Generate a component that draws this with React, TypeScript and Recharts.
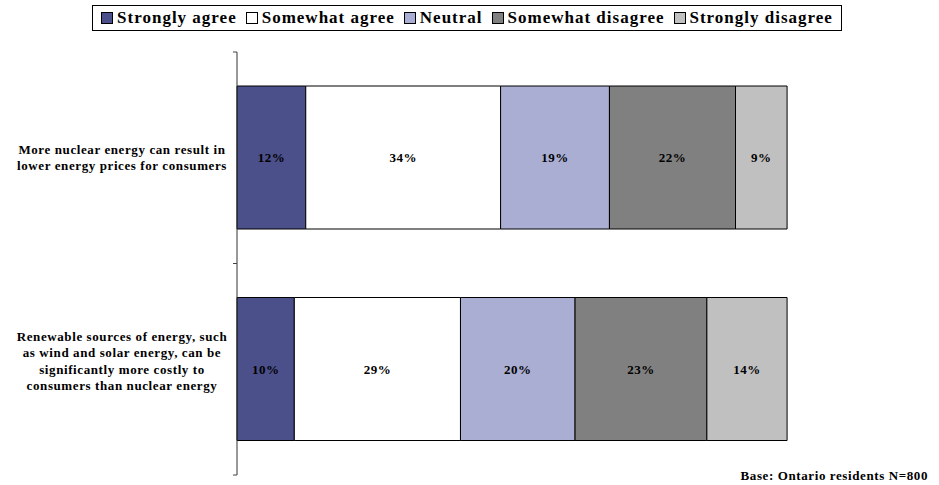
import { BarChart, Bar, XAxis, YAxis, LabelList } from "recharts";

const statements = [
    ["More nuclear energy can result in", "lower energy prices for consumers"],
    [
        "Renewable sources of energy, such",
        "as wind and solar energy, can be",
        "significantly more costly to",
        "consumers than nuclear energy",
    ],
];
const stronglyAgree = [12, 10];
const somewhatAgree = [34, 29];
const neutral = [19, 20];
const somewhatDisagree = [22, 23];
const stronglyDisagree = [9, 14];

const seriesNames = [
    "Strongly agree",
    "Somewhat agree",
    "Neutral",
    "Somewhat disagree",
    "Strongly disagree",
];
const seriesKeys = ["sa", "swa", "neu", "swd", "sd"];
const seriesColors = ["#4B4F8A", "#FFFFFF", "#AAAED3", "#808080", "#C0C0C0"];

const data = statements.map((lines, i) => ({
    name: lines.join(" "),
    lines,
    sa: stronglyAgree[i],
    swa: somewhatAgree[i],
    neu: neutral[i],
    swd: somewhatDisagree[i],
    sd: stronglyDisagree[i],
}));

const W = 939;
const H = 485;
const margin = { top: 52, right: 129, bottom: 10, left: 8 };
const bandHalf = (H - margin.top - margin.bottom) / data.length / 2;
const font = "'Liberation Serif', 'Times New Roman', serif";

const StatementTick = (props: any) => {
    const { x, y, payload } = props;
    const row = data.find((d) => d.name === payload.value);
    const lines = row ? row.lines : [payload.value];
    const lh = 16.5;
    // excel nudges the taller wrapped label upwards a little
    const startY = y - ((lines.length - 1) * lh) / 2 - (lines.length > 2 ? 9 : 1);
    return (
        <g>
            <line x1={x - 4} x2={x} y1={y - bandHalf} y2={y - bandHalf} stroke="#444" />
            <line x1={x - 4} x2={x} y1={y + bandHalf} y2={y + bandHalf} stroke="#444" />
            <text
                x={x - 115}
                y={startY}
                textAnchor="middle"
                dominantBaseline="central"
                fontFamily={font}
                fontWeight="bold"
                fontSize={13}
                letterSpacing={0.6}
                fill="#000"
            >
                {lines.map((l: string, i: number) => (
                    <tspan key={i} x={x - 115} y={startY + i * lh}>
                        {l}
                    </tspan>
                ))}
            </text>
        </g>
    );
};

export default function App() {
    return (
        <div style={{ position: "absolute", left: 0, top: 0, width: W, height: H, background: "#fff" }}>
            <div
                style={{
                    position: "absolute",
                    left: 92,
                    top: 5,
                    width: 750,
                    height: 26,
                    boxSizing: "border-box",
                    border: "1px solid #000",
                    display: "flex",
                    alignItems: "center",
                    justifyContent: "center",
                    fontFamily: font,
                    fontWeight: "bold",
                    fontSize: 17,
                    letterSpacing: 1,
                    whiteSpace: "nowrap",
                }}
            >
                {seriesNames.map((n, i) => (
                    <span key={n} style={{ display: "flex", alignItems: "center", marginRight: i < 4 ? 9 : 0 }}>
                        <span
                            style={{
                                display: "inline-block",
                                width: 10,
                                height: 10,
                                border: "1px solid #000",
                                background: seriesColors[i],
                                marginRight: 4,
                            }}
                        />
                        {n}
                    </span>
                ))}
            </div>
            <BarChart width={W} height={H} data={data} layout="vertical" margin={margin}>
                <XAxis type="number" domain={[0, 100]} hide />
                <YAxis
                    type="category"
                    dataKey="name"
                    width={229}
                    axisLine={{ stroke: "#333" }}
                    tickLine={false}
                    tickSize={0}
                    tickMargin={0}
                    tick={<StatementTick />}
                    interval={0}
                />
                {seriesKeys.map((k, i) => (
                    <Bar
                        key={k}
                        dataKey={k}
                        name={seriesNames[i]}
                        stackId="a"
                        fill={seriesColors[i]}
                        stroke="#000"
                        strokeWidth={1}
                        barSize={143}
                        isAnimationActive={false}
                    >
                        <LabelList
                            dataKey={k}
                            position="center"
                            formatter={(v: any) => `${v}%`}
                            style={{ fontFamily: font, fontWeight: "bold", fontSize: 13, letterSpacing: 0.5, fill: "#000" }}
                        />
                    </Bar>
                ))}
            </BarChart>
            <div
                style={{
                    position: "absolute",
                    right: 11,
                    top: 468,
                    fontFamily: font,
                    fontWeight: "bold",
                    fontSize: 13,
                    letterSpacing: 0.6,
                }}
            >
                Base: Ontario residents N=800
            </div>
        </div>
    );
}
